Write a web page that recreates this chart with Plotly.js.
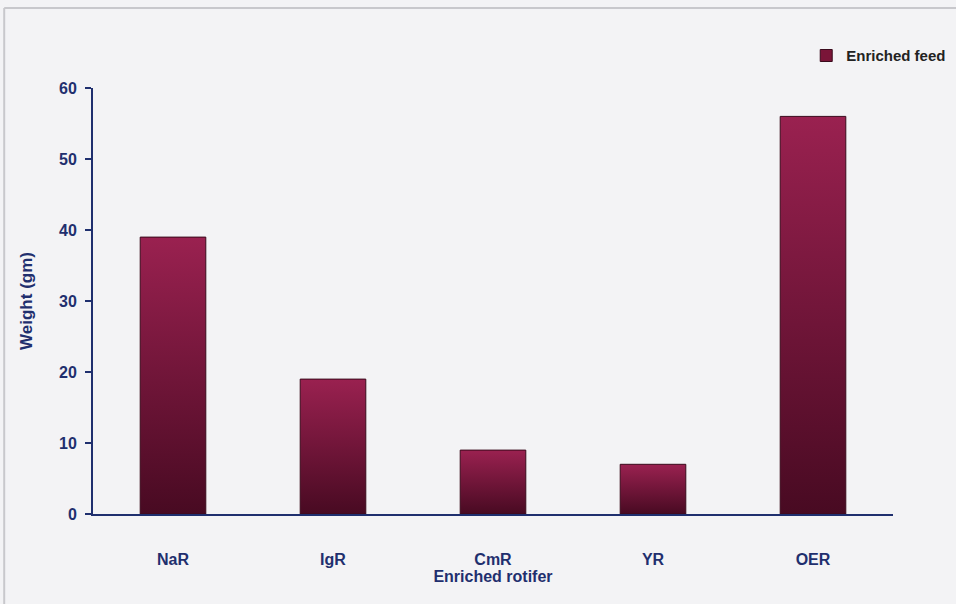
<!DOCTYPE html>
<html>
<head>
<meta charset="utf-8">
<script src="https://cdn.plot.ly/plotly-3.0.1.min.js"></script>
<style>html,body{margin:0;padding:0;background:#f3f3f5;}#chart{width:956px;height:604px;}</style>
</head>
<body>
<div id="chart"></div>
<script>
var categories = ["NaR", "IgR", "CmR", "YR", "OER"];
var weights = [39, 19, 9, 7, 56];
var seriesName = "Enriched feed";
var yTicks = [0, 10, 20, 30, 40, 50, 60];

var navy = "#1f2f6e";
var narrow = "Liberation Sans Narrow, Arial Narrow, sans-serif";
var trace = {
  type: "bar",
  x: categories,
  y: weights,
  name: seriesName,
  width: 0.41,
  marker: {color: "#7a1538", line: {color: "#3a0a1c", width: 1}},
  hoverinfo: "x+y"
};

var layout = {
  width: 956, height: 604,
  paper_bgcolor: "#f3f3f5",
  plot_bgcolor: "#f3f3f5",
  margin: {l: 93, r: 63, t: 88, b: 90, autoexpand: false},
  showlegend: true,
  legend: {
    xref: "container", yref: "container",
    x: 0.995, xanchor: "right", y: 0.935, yanchor: "top",
    font: {family: narrow, size: 15, color: "#222", weight: "bold"},
    bgcolor: "rgba(0,0,0,0)",
    itemwidth: 30
  },
  xaxis: {
    showline: true, linecolor: navy, linewidth: 2,
    ticks: "", showgrid: false, zeroline: false,
    tickfont: {family: narrow, size: 16, color: navy, weight: "bold"},
    ticklabelstandoff: 30,
    title: {text: "Enriched rotifer", standoff: 2,
      font: {family: narrow, size: 16, color: navy, weight: "bold"}}
  },
  yaxis: {
    range: [0, 60], tickvals: yTicks, ticktext: yTicks.map(String),
    showline: true, linecolor: navy, linewidth: 2,
    ticks: "outside", ticklen: 6, tickwidth: 2, tickcolor: navy,
    showgrid: false, zeroline: false,
    tickfont: {family: narrow, size: 16, color: navy, weight: "bold"},
    ticklabelstandoff: 5,
    title: {text: "Weight (gm)", standoff: 22,
      font: {family: narrow, size: 17, color: navy, weight: "bold"}}
  },
  shapes: [
    {type: "line", xref: "paper", yref: "paper", x0: -0.111, x1: 1.08, y0: 1.188, y1: 1.188,
     line: {color: "#c8c8cc", width: 2}},
    {type: "line", xref: "paper", yref: "paper", x0: -0.111, x1: -0.111, y0: 1.188, y1: -0.22,
     line: {color: "#c8c8cc", width: 2}}
  ]
};

Plotly.newPlot("chart", [trace], layout, {displayModeBar: false, staticPlot: true}).then(function(gd){
  var svg = gd.querySelector("svg.main-svg");
  var ns = "http://www.w3.org/2000/svg";
  var defs = document.createElementNS(ns, "defs");
  var grad = document.createElementNS(ns, "linearGradient");
  grad.setAttribute("id", "barGrad");
  grad.setAttribute("x1", "0"); grad.setAttribute("y1", "0");
  grad.setAttribute("x2", "0"); grad.setAttribute("y2", "1");
  [["0", "#9a2150"], ["1", "#480a22"]].forEach(function(s){
    var st = document.createElementNS(ns, "stop");
    st.setAttribute("offset", s[0]);
    st.setAttribute("stop-color", s[1]);
    grad.appendChild(st);
  });
  defs.appendChild(grad);
  svg.insertBefore(defs, svg.firstChild);
  gd.querySelectorAll(".barlayer .point path").forEach(function(p){
    p.style.fill = "url(#barGrad)";
  });
});
</script>
</body>
</html>
